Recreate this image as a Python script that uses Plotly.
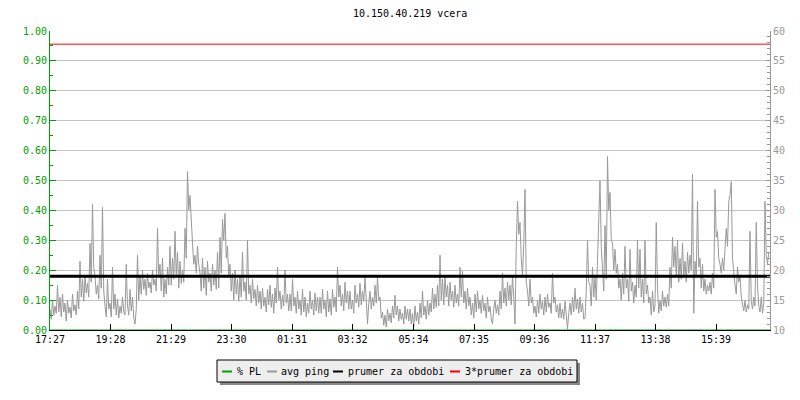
import plotly.graph_objects as go

# ---------------- data ----------------
title_text = "10.150.40.219 vcera"
start_label = "17:27"
step_minutes = 2.5
period_minutes = 1440

tick_labels = ["17:27", "19:28", "21:29", "23:30", "01:31", "03:32",
               "05:34", "07:35", "09:36", "11:37", "13:38", "15:39"]

# avg ping [ms], 2.5-minute samples, one row per hour
avg_ping = [
    13.5, 11.8, 15.0, 12.5, 14.0, 12.8, 17.5, 13.0, 15.5, 12.2, 16.0, 13.0, 14.5, 11.5, 15.0, 12.8, 13.8, 12.0, 16.0, 13.2, 14.2, 12.5, 16.5, 13.5,
    21.5, 15.5, 18.5, 14.8, 19.0, 16.2, 17.8, 15.5, 24.5, 18.0, 31.0, 20.5, 19.0, 16.0, 17.5, 15.2, 22.5, 17.0, 30.5, 16.5, 14.0, 12.2, 18.5, 13.5,
    14.5, 12.2, 20.5, 13.5, 16.0, 12.5, 15.2, 12.0, 14.0, 12.8, 15.5, 13.0, 12.5, 21.0, 14.0, 12.5, 16.8, 13.2, 15.5, 12.0, 11.0, 13.5, 22.5, 15.0,
    19.0, 16.0, 20.0, 16.8, 18.5, 15.8, 19.5, 17.0, 18.0, 16.2, 20.0, 17.5, 18.5, 16.5, 27.0, 19.0, 21.0, 16.5, 22.0, 15.5, 18.5, 16.0, 20.5, 17.5,
    24.0, 17.5, 22.0, 18.5, 26.5, 19.0, 23.0, 17.0, 21.5, 17.8, 20.0, 18.0, 27.0, 22.0, 36.5, 30.0, 32.5, 27.0, 24.5, 21.0, 22.5, 19.5, 24.0, 21.0,
    19.5, 16.5, 22.0, 17.0, 20.5, 15.8, 21.5, 18.0, 19.5, 16.5, 21.0, 17.5, 20.0, 16.8, 23.0, 17.0, 25.5, 19.5, 28.5, 25.0, 29.5, 22.0, 24.0, 19.0,
    21.0, 16.5, 19.5, 15.0, 20.0, 16.0, 18.5, 14.8, 19.0, 15.5, 23.0, 16.5, 18.0, 15.0, 25.0, 16.0, 17.5, 14.5, 18.5, 15.2, 16.8, 14.0, 17.5, 14.5,
    16.5, 13.5, 17.0, 14.0, 15.5, 13.0, 16.8, 14.2, 17.5, 13.8, 16.0, 12.8, 17.0, 14.5, 20.5, 15.0, 16.5, 13.5, 15.8, 14.0, 20.0, 14.5, 16.0, 13.2,
    16.0, 13.2, 18.5, 14.0, 15.5, 12.8, 16.5, 13.5, 15.0, 12.5, 16.8, 13.0, 15.5, 12.2, 14.5, 12.8, 16.5, 13.5, 15.0, 12.5, 16.2, 13.2, 15.5, 12.8,
    15.5, 12.8, 16.8, 13.5, 15.0, 12.2, 16.5, 13.0, 15.2, 12.5, 16.8, 13.8, 15.5, 13.0, 20.5, 15.5, 17.5, 14.0, 16.0, 13.2, 18.0, 14.5, 16.5, 13.5,
    16.5, 13.5, 15.0, 12.8, 17.5, 14.5, 16.0, 13.8, 17.8, 14.2, 16.5, 14.8, 18.8, 15.0, 11.0, 14.5, 16.5, 13.5, 15.5, 14.0, 17.5, 14.5, 18.8, 15.0,
    15.5, 12.0, 13.0, 10.8, 12.5, 10.5, 13.5, 11.5, 12.8, 11.2, 14.0, 12.0, 15.8, 12.5, 14.0, 11.5, 13.5, 11.8, 12.8, 11.0, 14.0, 11.8, 13.5, 11.5,
    13.5, 11.0, 12.8, 10.5, 14.0, 11.5, 13.0, 11.0, 14.5, 12.0, 16.5, 12.5, 14.0, 11.8, 15.0, 12.5, 14.5, 13.0, 17.0, 13.5, 16.0, 13.8, 17.5, 14.0,
    22.5, 15.0, 18.5, 14.2, 19.0, 15.5, 17.5, 14.0, 18.0, 15.0, 16.5, 13.8, 17.5, 14.5, 16.0, 14.0, 20.5, 15.5, 19.8, 14.5, 16.5, 13.5, 17.0, 14.0,
    15.5, 12.5, 14.5, 12.0, 16.0, 13.0, 16.5, 13.5, 15.0, 12.8, 15.8, 13.2, 14.5, 12.0, 15.5, 13.0, 14.0, 11.8, 11.0, 13.5, 15.0, 12.8, 14.2, 12.5,
    16.5, 13.5, 19.5, 14.5, 17.0, 14.0, 18.0, 15.0, 17.5, 14.2, 19.0, 15.5, 11.0, 24.0, 31.5, 26.0, 28.0, 22.0, 19.0, 24.5, 33.5, 18.0, 16.5, 14.0,
    18.5, 14.5, 15.5, 12.8, 14.0, 12.2, 15.0, 12.8, 16.0, 13.5, 14.8, 12.5, 15.5, 13.0, 16.0, 13.8, 14.5, 12.8, 19.5, 14.5, 15.5, 13.0, 14.2, 12.0,
    14.5, 12.0, 13.5, 11.8, 14.8, 12.5, 10.2, 12.8, 14.5, 12.5, 15.5, 13.0, 17.0, 13.5, 15.2, 12.8, 15.5, 13.0, 14.5, 11.8, 12.0, 16.5, 25.0, 18.0,
    17.5, 14.0, 20.5, 15.5, 19.0, 15.0, 22.0, 26.0, 35.0, 24.0, 19.0, 16.5, 27.5, 18.5, 39.0, 30.0, 33.0, 25.0, 24.5, 20.0, 23.5, 19.5, 21.0, 17.0,
    18.5, 15.0, 19.5, 16.0, 24.0, 17.0, 18.5, 14.8, 23.5, 16.5, 18.0, 14.5, 17.5, 15.5, 25.0, 17.0, 23.5, 15.5, 18.5, 14.5, 25.0, 16.0, 17.5, 14.5,
    15.5, 12.5, 16.5, 13.0, 14.0, 28.0, 17.0, 12.8, 15.0, 13.2, 16.5, 14.0, 15.5, 13.8, 16.0, 14.0, 20.5, 17.0, 25.5, 20.5, 24.0, 19.0, 25.0, 18.0,
    22.0, 18.5, 24.5, 19.0, 21.5, 18.0, 23.0, 19.5, 22.5, 20.0, 36.0, 12.8, 21.5, 19.0, 31.5, 20.5, 22.0, 17.0, 21.0, 16.5, 18.5, 16.0, 17.5, 16.5,
    18.0, 16.0, 19.5, 17.0, 33.5, 25.5, 26.5, 22.0, 21.0, 19.5, 22.0, 20.0, 23.5, 27.0, 24.0, 31.5, 32.5, 34.8, 22.0, 19.0, 17.5, 16.0, 20.5, 18.0,
    19.0, 15.5, 14.5, 13.2, 15.0, 13.0, 14.2, 13.5, 26.5, 14.8, 13.5, 15.5, 14.0, 28.0, 17.5, 14.0, 13.0, 15.5, 12.8, 14.5, 31.5, 22.5, 21.0, 23.0,
]

# % PL, hourly (no packet loss visible)
packet_loss = [0, 0, 0, 0, 0, 0, 0, 0, 0, 0, 0, 0,
               0, 0, 0, 0, 0, 0, 0, 0, 0, 0, 0, 0, 0]

prumer = 19.0          # "prumer za obdobi"
trojnasobek = 57.8     # "3*prumer za obdobi"

legend_items = ["% PL", "avg ping", "prumer za obdobi", "3*prumer za obdobi"]
legend_colors = ["#00a000", "#999999", "#000000", "#ff0000"]

# ---------------- helpers ----------------
def to_min(label):
    h, m = map(int, label.split(":"))
    sh, sm = map(int, start_label.split(":"))
    return ((h * 60 + m) - (sh * 60 + sm)) % 1440

tick_vals = [to_min(t) for t in tick_labels]
x_vals = [i * step_minutes for i in range(len(avg_ping))]
pl_x = [i * 60 for i in range(len(packet_loss))]

FONT = "DejaVu Sans Mono"
BODY = 8                       # default page margin around the figure
FW, FH = 800 - 2 * BODY, 400 - 2 * BODY
L, T, PW, PH = 50, 31, 720, 299   # plot area in window pixels


def px(x):
    return (x - L) / PW


def py(y):
    return (T + PH - y) / PH


fig = go.Figure()

fig.add_trace(go.Scatter(x=pl_x, y=packet_loss, yaxis="y", mode="lines",
                         line=dict(color="#00a000", width=1), name="% PL"))
fig.add_trace(go.Scatter(x=x_vals, y=avg_ping, yaxis="y2", mode="lines",
                         line=dict(color="#999999", width=1), name="avg ping"))
fig.add_trace(go.Scatter(x=[0, period_minutes], y=[prumer, prumer], yaxis="y2",
                         mode="lines", line=dict(color="#000000", width=3),
                         name="prumer za obdobi"))
fig.add_trace(go.Scatter(x=[0, period_minutes], y=[trojnasobek, trojnasobek],
                         yaxis="y2", mode="lines",
                         line=dict(color="#ff0000", width=1),
                         name="3*prumer za obdobi"))

ml = L - BODY
mt = T - BODY
fig.update_layout(
    template="none",
    width=FW, height=FH,
    margin=dict(l=ml, r=FW - ml - PW, t=mt, b=FH - mt - PH, pad=0),
    plot_bgcolor="white", paper_bgcolor="white",
    showlegend=False,
    font=dict(family=FONT, size=10, color="black"),
    xaxis=dict(range=[0, period_minutes], tickvals=tick_vals, ticktext=tick_labels,
               ticks="inside", ticklen=6, tickcolor="black", tickwidth=1,
               showline=True, linecolor="black", linewidth=1,
               showgrid=False, zeroline=False, automargin=False,
               tickfont=dict(family=FONT, size=10, color="black")),
    yaxis=dict(range=[0, 1], dtick=0.1, tickformat=".2f",
               ticks="inside", ticklen=6, tickcolor="#00a000",
               showline=True, linecolor="#00a000", linewidth=1,
               showgrid=True, gridcolor="#c4c4c4", gridwidth=1,
               zeroline=False, automargin=False,
               tickfont=dict(family=FONT, size=10, color="#00a000"),
               minor=dict(dtick=0.05, ticks="inside", ticklen=3,
                          tickcolor="#00a000", showgrid=False)),
    yaxis2=dict(range=[10, 60], dtick=5, overlaying="y", side="right",
                ticks="inside", ticklen=4, tickcolor="#999999",
                showline=True, linecolor="#999999", linewidth=1,
                showgrid=False, zeroline=False, automargin=False,
                tickfont=dict(family=FONT, size=10, color="#999999"),
                minor=dict(dtick=1, ticks="inside", ticklen=3,
                           tickcolor="#999999", showgrid=False)),
)

# title
fig.add_annotation(text=title_text, xref="paper", yref="paper",
                   x=px(410), y=py(13), xanchor="center", yanchor="middle",
                   showarrow=False, font=dict(family=FONT, size=10, color="black"))

# manual legend box with shadow
fig.add_shape(type="rect", xref="paper", yref="paper",
              x0=px(220), x1=px(580), y0=py(363), y1=py(385),
              fillcolor="#888888", line=dict(width=0), layer="above")
fig.add_shape(type="rect", xref="paper", yref="paper",
              x0=px(217), x1=px(577), y0=py(360), y1=py(382),
              fillcolor="#eeeeee", line=dict(color="black", width=1), layer="above")

item_line_x = [222, 267, 333, 450]
item_text_x = [236, 280, 347, 464]
for name, color, lx, tx in zip(legend_items, legend_colors, item_line_x, item_text_x):
    fig.add_shape(type="line", xref="paper", yref="paper",
                  x0=px(lx), x1=px(lx + 10), y0=py(371.5), y1=py(371.5),
                  line=dict(color=color, width=2), layer="above")
    fig.add_annotation(text=name, xref="paper", yref="paper",
                       x=px(tx), y=py(371), xanchor="left", yanchor="middle",
                       showarrow=False, borderpad=0,
                       font=dict(family=FONT, size=10, color="black"))

fig.write_html("out.html")
